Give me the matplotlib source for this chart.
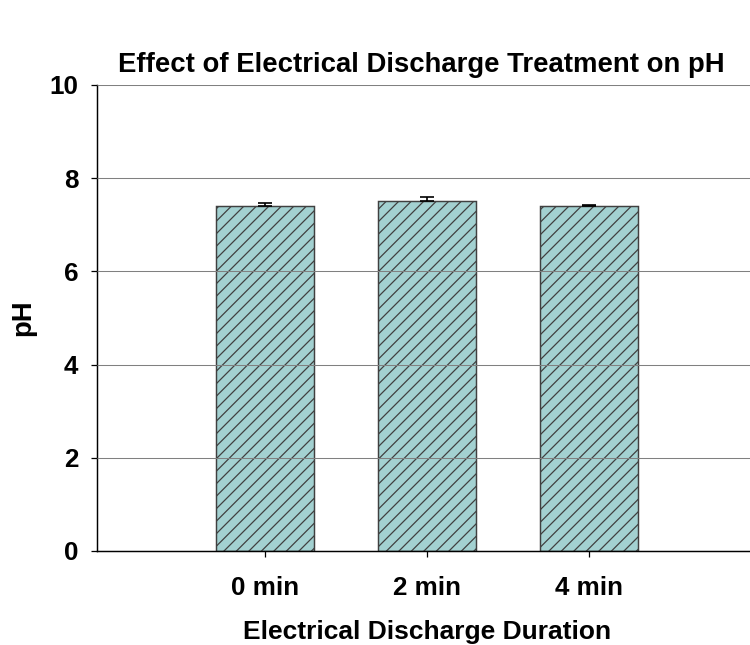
import matplotlib.pyplot as plt
import numpy as np

# data
durations = ['0 min', '2 min', '4 min']
ph_values = [7.41, 7.52, 7.41]
ph_err = [0.05, 0.08, 0.01]

plt.rcParams['font.family'] = ['Liberation Sans', 'DejaVu Sans']
plt.rcParams['hatch.linewidth'] = 0.6

fig = plt.figure(figsize=(5, 4.3), dpi=150)
ax = fig.add_axes([97 / 750, 94 / 645, 660 / 750, 466 / 645])

x = np.arange(len(durations))
ax.bar(x, ph_values, width=0.605, color='#a3d1d1', edgecolor='#404040',
       hatch='////', linewidth=0.7, zorder=2)
ax.errorbar(x, ph_values, yerr=[np.zeros(len(ph_err)), ph_err], fmt='none',
            ecolor='black', elinewidth=0.8, capsize=3.4, capthick=0.8, zorder=3)

ax.set_xlim(-1.037, 2 + 1.037)
ax.set_ylim(0, 10)
ax.set_yticks([0, 2, 4, 6, 8, 10])
ax.set_xticks(x)
ax.set_xticklabels(durations)
ax.yaxis.grid(True, color='#808080', linewidth=0.5, zorder=4)
ax.set_axisbelow(False)

for side in ['top', 'right']:
    ax.spines[side].set_visible(False)
ax.spines['left'].set_linewidth(0.7)
ax.spines['bottom'].set_linewidth(0.7)
ax.tick_params(axis='both', direction='out', length=3, width=0.6, labelsize=12.5)
ax.tick_params(axis='y', pad=6)
ax.tick_params(axis='x', pad=9)
for lab in ax.get_xticklabels() + ax.get_yticklabels():
    lab.set_fontweight('bold')

fig.text(421 / 750, 1 - 65 / 645, 'Effect of Electrical Discharge Treatment on pH',
         ha='center', va='center', fontsize=13.2, fontweight='bold')
fig.text(427 / 750, 1 - 639 / 645, 'Electrical Discharge Duration',
         ha='center', va='baseline', fontsize=12.7, fontweight='bold')
fig.text(23 / 750, 1 - 318 / 645, 'pH', ha='center', va='center',
         rotation=90, fontsize=13.2, fontweight='bold')

fig.savefig('out.png', dpi=150)
